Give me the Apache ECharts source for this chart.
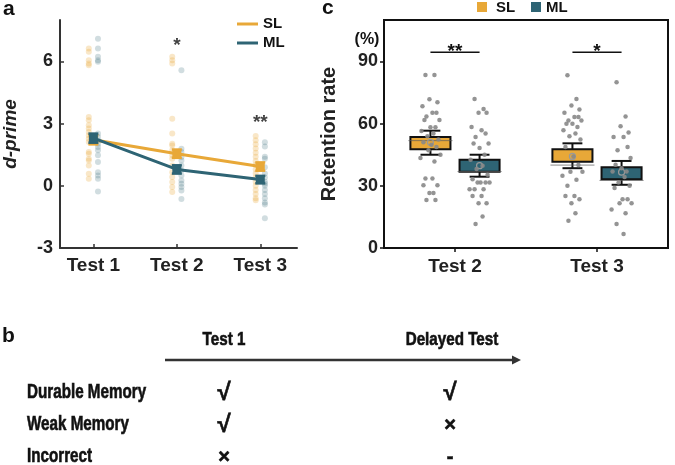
<!DOCTYPE html>
<html>
<head>
<meta charset="utf-8">
<script src="https://cdn.jsdelivr.net/npm/echarts@6/dist/echarts.min.js"></script>
<style>html,body{margin:0;padding:0;background:#fff}#c{width:675px;height:465px}</style>
</head>
<body>
<div id="c"></div>
<script>
// ---------- Panel a data (d-prime) ----------
const testsA = ['Test 1', 'Test 2', 'Test 3'];
const slMeanA = [2.22, 1.55, 0.93];
const mlMeanA = [2.3, 0.79, 0.3];
const slSeA = [0.22, 0.2, 0.2];
const mlSeA = [0.22, 0.2, 0.18];
const slDots1 = [6.63, 6.47, 6.06, 5.9, 5.82, 3.32, 3.16, 2.92, 2.76, 2.6, 2.43, 2.27, 2.11, 1.63, 1.55, 1.31, 1.22, 0.98, 0.58, 0.34];
const mlDots1 = [7.09, 6.63, 6.23, 6.06, 5.98, 2.52, 2.35, 2.19, 2.03, 1.87, 1.71, 1.47, 1.15, 0.66, 0.5, 0.34, -0.27];
const slDots2 = [6.23, 6.06, 5.9, 3.24, 2.52, 2.03, 1.95, 1.71, 1.47, 1.31, 0.98, 0.66, 0.42, 0.18, -0.06, -0.3];
const mlDots2 = [5.58, 1.79, 1.63, 1.39, 1.22, 0.98, 0.74, 0.5, 0.26, 0.1, -0.06, -0.23, -0.63];
const slDots3 = [2.4, 2.2, 2.0, 1.8, 1.6, 1.4, 1.2, 1.0, 0.8, 0.6, 0.4, 0.2, 0.0, -0.2, -0.4, -0.6, -0.7];
const mlDots3 = [2.1, 1.9, 1.4, 1.3, 0.9, 0.6, 0.4, 0.2, 0.1, 0.0, -0.2, -0.4, -0.6, -0.8, -0.9, -1.56];
const starsA = [['*', 2, 6.75], ['**', 3, 3.05]];
const yTicksA = [-3, 0, 3, 6];

// ---------- Panel c data (retention rate) ----------
const testsC = ['Test 2', 'Test 3'];
// [low, q1, median, q3, high]
const slBoxC = [[45.0, 47.7, 51.8, 53.5, 56.6], [38.5, 41.6, 40.0, 47.6, 50.5]];
const mlBoxC = [[34.4, 36.8, 36.9, 42.6, 45.0], [30.5, 33.2, 32.6, 39.0, 42.0]];
const slMeanC = [51.0, 44.2];
const mlMeanC = [39.7, 36.6];
const slPtsC2 = [83.5, 83.5, 71.8, 70.3, 68.4, 65.2, 65.2, 63.5, 61.8, 61.8, 58.3, 58.3, 56.5, 55.3, 53.9, 52.3, 51.0, 49.8, 48.7, 47.1, 45.0, 43.4, 41.7, 33.5, 33.5, 30.3, 30.3, 26.5, 26.5, 23.2, 23.2];
const mlPtsC2 = [71.9, 67.1, 65.2, 65.2, 58.4, 56.8, 55.2, 53.6, 50.4, 50.4, 48.3, 45.0, 42.6, 39.7, 38.1, 35.4, 33.2, 31.6, 31.6, 31.6, 31.6, 28.4, 28.4, 28.4, 25.1, 25.1, 21.6, 21.6, 15.2, 11.6];
const slPtsC3 = [83.4, 71.9, 68.7, 66.8, 65.2, 63.2, 63.2, 61.5, 61.5, 60.0, 60.0, 58.4, 56.8, 55.2, 53.9, 52.3, 48.7, 44.2, 40.0, 36.8, 36.8, 34.8, 32.9, 30.0, 25.1, 25.1, 23.5, 21.6, 16.8, 13.2];
const mlPtsC3 = [80.0, 63.5, 58.7, 55.7, 53.6, 53.6, 48.7, 47.1, 43.4, 40.2, 38.5, 36.9, 36.9, 34.2, 31.6, 30.0, 28.9, 23.5, 23.5, 21.6, 21.6, 18.6, 16.8, 11.6, 6.8];
const sigC = [['**', 1, 94.4], ['*', 2, 94.4]];
const yTicksC = [0, 30, 60, 90];

// ---------- Panel b text ----------
const bHeaders = ['Test 1', 'Delayed Test'];
const bRows = ['Durable Memory', 'Weak Memory', 'Incorrect'];
const bTest1 = ['\u221A', '\u221A', '\u00D7'];
const bDelayed = ['\u221A', '\u00D7', '-'];

// ---------- styles ----------
const FONT = '"Liberation Sans", Arial, Helvetica, sans-serif';
const SL = '#E8A838', ML = '#2E6474';
const AX = '#333';
const OFF_A = 0.055;   // dot column offset in panel a (x units)
const OFF_C = 0.173;   // group offset in panel c
const BOX_HW = 0.141, CAP_HW = 0.07;
const JIT = [-5, 4, -1, 7, -8, 2, 6, -4, 9, -6, 0, 5, -9, 3, -3, 8, -7, 1, 6, -2, 10, -10, 4, -5, 2, -7, 7, -1, 3, -4, 5];
const PX_C = 142; // px per x unit in panel c

function dotsA(vals, x) { return vals.map(v => [x, v]); }
function jitterC(vals, x) { return vals.map((v, i) => [x + JIT[i % JIT.length] / PX_C, v]); }

const chart = echarts.init(document.getElementById('c'), null, { renderer: 'canvas' });

const errRender = (color) => function (params, api) {
  const x = api.value(0), m = api.value(1), se = api.value(2);
  const top = api.coord([x, m + se]), bot = api.coord([x, m - se]);
  const st = { stroke: color, lineWidth: 2.5 };
  return { type: 'group', children: [
    { type: 'line', shape: { x1: top[0], y1: top[1], x2: bot[0], y2: bot[1] }, style: st },
    { type: 'line', shape: { x1: top[0] - 5, y1: top[1], x2: top[0] + 5, y2: top[1] }, style: st },
    { type: 'line', shape: { x1: bot[0] - 5, y1: bot[1], x2: bot[0] + 5, y2: bot[1] }, style: st }
  ]};
};

const boxRender = (color) => function (params, api) {
  const x = api.value(0);
  const lo = api.value(1), q1 = api.value(2), med = api.value(3), q3 = api.value(4), hi = api.value(5), mean = api.value(6);
  const tl = api.coord([x - BOX_HW, q3]), br = api.coord([x + BOX_HW, q1]);
  const c = api.coord([x, 0])[0];
  const yHi = api.coord([x, hi])[1], yLo = api.coord([x, lo])[1];
  const capW = api.coord([x + CAP_HW, 0])[0] - c;
  const yMed = api.coord([x, med])[1], yMean = api.coord([x, mean])[1];
  const black = { stroke: '#111', lineWidth: 2 };
  return { type: 'group', children: [
    { type: 'line', shape: { x1: c, y1: yHi, x2: c, y2: tl[1] }, style: black },
    { type: 'line', shape: { x1: c, y1: br[1], x2: c, y2: yLo }, style: black },
    { type: 'line', shape: { x1: c - capW, y1: yHi, x2: c + capW, y2: yHi }, style: black },
    { type: 'line', shape: { x1: c - capW, y1: yLo, x2: c + capW, y2: yLo }, style: black },
    { type: 'rect', shape: { x: tl[0], y: tl[1], width: br[0] - tl[0], height: br[1] - tl[1] }, style: { fill: color, stroke: '#111', lineWidth: 2 } },
    { type: 'line', shape: { x1: tl[0] - 2, y1: yMed, x2: br[0] + 2, y2: yMed }, style: { stroke: 'rgba(90,90,90,0.7)', lineWidth: 1 } },
    { type: 'circle', shape: { cx: c, cy: yMean, r: 3 }, style: { fill: 'none', stroke: '#999', lineWidth: 1.2 } }
  ]};
};

const sigRender = function (params, api) {
  const x = api.value(1), y = api.value(2);
  const p1 = api.coord([x - OFF_C, y]), p2 = api.coord([x + OFF_C, y]);
  return { type: 'group', children: [
    { type: 'line', shape: { x1: p1[0], y1: p1[1], x2: p2[0], y2: p2[1] }, style: { stroke: '#111', lineWidth: 1.5 } },
    { type: 'text', x: (p1[0] + p2[0]) / 2, y: p1[1] + 9, style: { text: sigC[params.dataIndex][0], font: 'bold 19px ' + FONT, fill: '#111', align: 'center', verticalAlign: 'bottom' } }
  ]};
};

const labelStyle = { color: '#222', fontWeight: 'bold', fontFamily: FONT };
const bStyle = (t, size) => ({ text: t, font: 'bold ' + size + 'px ' + FONT, fill: '#111', stroke: '#111', lineWidth: 0.6, align: 'center', verticalAlign: 'middle' });

const option = {
  animation: false,
  backgroundColor: '#fff',
  grid: [
    { left: 60, top: 20, width: 237, height: 228, show: false },
    { left: 384, top: 20, width: 284, height: 228, show: true, borderColor: '#111', borderWidth: 2, backgroundColor: 'transparent' }
  ],
  xAxis: [
    { gridIndex: 0, type: 'value', min: 0.6, max: 3.44,
      axisLine: { show: true, onZero: false, lineStyle: { color: AX, width: 2 } },
      axisTick: { show: true, inside: true, length: 4, customValues: [1, 2, 3], lineStyle: { color: AX, width: 1.5 } },
      axisLabel: Object.assign({ customValues: [1, 2, 3], formatter: v => testsA[Math.round(v) - 1], fontSize: 19, margin: 8 }, labelStyle),
      splitLine: { show: false } },
    { gridIndex: 1, type: 'value', min: 0.5, max: 2.5,
      axisLine: { show: true, onZero: false, lineStyle: { color: '#111', width: 2 } },
      axisTick: { show: true, inside: false, length: 4, customValues: [1, 2], lineStyle: { color: '#111', width: 1.5 } },
      axisLabel: Object.assign({ customValues: [1, 2], formatter: v => testsC[Math.round(v) - 1], fontSize: 19, margin: 9 }, labelStyle),
      splitLine: { show: false } }
  ],
  yAxis: [
    { gridIndex: 0, type: 'value', min: -3, max: 8,
      axisLine: { show: true, onZero: false, lineStyle: { color: AX, width: 2 } },
      axisTick: { show: true, inside: true, length: 4, customValues: yTicksA, lineStyle: { color: AX, width: 1.5 } },
      axisLabel: Object.assign({ customValues: yTicksA, fontSize: 18, margin: 7 }, labelStyle),
      splitLine: { show: false },
      name: 'd-prime', nameLocation: 'middle', nameRotate: 90, nameGap: 40,
      nameTextStyle: { fontSize: 19, fontWeight: 'bold', fontStyle: 'italic', color: '#222', fontFamily: FONT } },
    { gridIndex: 1, type: 'value', min: 0, max: 110,
      axisLine: { show: true, onZero: false, lineStyle: { color: '#111', width: 2 } },
      axisTick: { show: true, inside: false, length: 4, customValues: yTicksC, lineStyle: { color: '#111', width: 1.5 } },
      axisLabel: Object.assign({ customValues: yTicksC, fontSize: 18, margin: 6 }, labelStyle),
      splitLine: { show: false },
      name: 'Retention rate', nameLocation: 'middle', nameRotate: 90, nameGap: 45,
      nameTextStyle: { fontSize: 20, fontWeight: 'bold', color: '#222', fontFamily: FONT } }
  ],
  series: [
    { type: 'scatter', xAxisIndex: 0, yAxisIndex: 0, symbolSize: 6, itemStyle: { color: SL, opacity: 0.28 },
      data: [].concat(dotsA(slDots1, 1 - OFF_A), dotsA(slDots2, 2 - OFF_A), dotsA(slDots3, 3 - OFF_A)) },
    { type: 'scatter', xAxisIndex: 0, yAxisIndex: 0, symbolSize: 6, itemStyle: { color: ML, opacity: 0.22 },
      data: [].concat(dotsA(mlDots1, 1 + OFF_A), dotsA(mlDots2, 2 + OFF_A), dotsA(mlDots3, 3 + OFF_A)) },
    { type: 'line', xAxisIndex: 0, yAxisIndex: 0, data: slMeanA.map((v, i) => [i + 1, v]),
      symbol: 'rect', symbolSize: 9, lineStyle: { color: SL, width: 3 }, itemStyle: { color: SL }, z: 3 },
    { type: 'custom', xAxisIndex: 0, yAxisIndex: 0, renderItem: errRender(SL), data: slMeanA.map((v, i) => [i + 1, v, slSeA[i]]), z: 3 },
    { type: 'line', xAxisIndex: 0, yAxisIndex: 0, data: mlMeanA.map((v, i) => [i + 1, v]),
      symbol: 'rect', symbolSize: 9, lineStyle: { color: ML, width: 3 }, itemStyle: { color: ML }, z: 4 },
    { type: 'custom', xAxisIndex: 0, yAxisIndex: 0, renderItem: errRender(ML), data: mlMeanA.map((v, i) => [i + 1, v, mlSeA[i]]), z: 4 },
    { type: 'scatter', xAxisIndex: 0, yAxisIndex: 0, symbolSize: 0, data: starsA.map(s => [s[1], s[2]]),
      label: { show: true, position: 'inside', formatter: p => starsA[p.dataIndex][0], fontSize: 19, fontWeight: 'bold', color: '#111', fontFamily: FONT } },
    { type: 'custom', xAxisIndex: 1, yAxisIndex: 1, renderItem: boxRender(SL),
      data: slBoxC.map((b, i) => [i + 1 - OFF_C].concat(b, [slMeanC[i]])), z: 2 },
    { type: 'custom', xAxisIndex: 1, yAxisIndex: 1, renderItem: boxRender(ML),
      data: mlBoxC.map((b, i) => [i + 1 + OFF_C].concat(b, [mlMeanC[i]])), z: 2 },
    { type: 'scatter', xAxisIndex: 1, yAxisIndex: 1, symbolSize: 4.5, itemStyle: { color: '#888', opacity: 0.9 }, z: 5,
      data: [].concat(jitterC(slPtsC2, 1 - OFF_C), jitterC(mlPtsC2, 1 + OFF_C), jitterC(slPtsC3, 2 - OFF_C), jitterC(mlPtsC3, 2 + OFF_C)) },
    { type: 'custom', xAxisIndex: 1, yAxisIndex: 1, renderItem: sigRender, data: sigC.map(s => [0, s[1], s[2]]), z: 6 }
  ],
  graphic: [
    { type: 'text', x: 3, y: 9, style: { text: 'a', font: 'bold 21px ' + FONT, fill: '#111', align: 'left', verticalAlign: 'middle' } },
    { type: 'text', x: 322, y: 8, style: { text: 'c', font: 'bold 21px ' + FONT, fill: '#111', align: 'left', verticalAlign: 'middle' } },
    { type: 'text', x: 2, y: 336, style: { text: 'b', font: 'bold 21px ' + FONT, fill: '#111', align: 'left', verticalAlign: 'middle' } },
    { type: 'line', shape: { x1: 237, y1: 24, x2: 258, y2: 24 }, style: { stroke: SL, lineWidth: 3 } },
    { type: 'text', x: 263, y: 24, style: { text: 'SL', font: 'bold 15px ' + FONT, fill: '#111', align: 'left', verticalAlign: 'middle' } },
    { type: 'line', shape: { x1: 237, y1: 43, x2: 258, y2: 43 }, style: { stroke: ML, lineWidth: 3 } },
    { type: 'text', x: 263, y: 43, style: { text: 'ML', font: 'bold 15px ' + FONT, fill: '#111', align: 'left', verticalAlign: 'middle' } },
    { type: 'rect', shape: { x: 477, y: 2, width: 10, height: 10 }, style: { fill: SL } },
    { type: 'text', x: 496, y: 8, style: { text: 'SL', font: 'bold 15px ' + FONT, fill: '#111', align: 'left', verticalAlign: 'middle' } },
    { type: 'rect', shape: { x: 531, y: 2, width: 10, height: 10 }, style: { fill: ML } },
    { type: 'text', x: 546, y: 8, style: { text: 'ML', font: 'bold 15px ' + FONT, fill: '#111', align: 'left', verticalAlign: 'middle' } },
    { type: 'text', x: 367, y: 40, style: { text: '(%)', font: 'bold 16px ' + FONT, fill: '#111', align: 'center', verticalAlign: 'middle' } },
    { type: 'text', x: 224, y: 340, scaleX: 0.8, style: bStyle(bHeaders[0], 19) },
    { type: 'text', x: 452, y: 340, scaleX: 0.8, style: bStyle(bHeaders[1], 19) },
    { type: 'line', shape: { x1: 165, y1: 360, x2: 514, y2: 360 }, style: { stroke: '#333', lineWidth: 2.5 } },
    { type: 'polygon', shape: { points: [[521, 360], [512, 355.5], [512, 364.5]] }, style: { fill: '#333' } }
  ].concat(
    bRows.map((t, i) => ({ type: 'text', x: 27, y: 392 + i * 32, scaleX: 0.76, style: Object.assign(bStyle(t, 20), { align: 'left' }) })),
    bTest1.map((t, i) => ({ type: 'text', x: 224, y: 393 + i * 32, style: bStyle(t, t === '\u221A' ? 24 : 20) })),
    bDelayed.map((t, i) => ({ type: 'text', x: 450, y: 393 + i * 32, style: bStyle(t, t === '\u221A' ? 24 : 20) }))
  )
};
chart.setOption(option);
</script>
</body>
</html>
